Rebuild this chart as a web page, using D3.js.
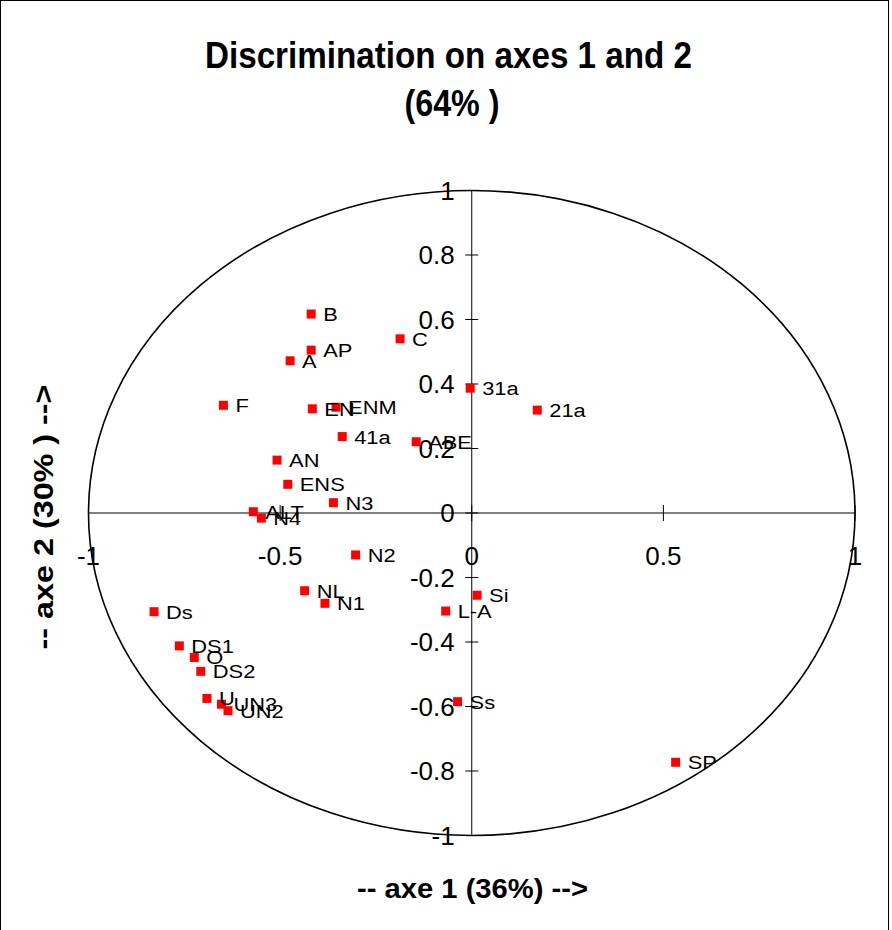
<!DOCTYPE html>
<html>
<head>
<meta charset="utf-8">
<script src="https://cdn.jsdelivr.net/npm/d3@7"></script>
<style>
  html, body { margin: 0; padding: 0; background: #fff; }
  svg { display: block; }
  text { font-family: "Liberation Sans", Arial, sans-serif; fill: #000; }
</style>
</head>
<body>
<svg id="chart" width="892" height="930"></svg>
<script>
const labels = ["B","AP","A","C","F","EN","ENM","41a","ABE","31a","21a","AN","ENS","N3","ALT","N4",
                "N2","NL","N1","Ds","DS1","O","DS2","U","UN3","UN2","Si","L-A","Ss","SP"];
const axis1 = [-0.419,-0.419,-0.474,-0.187,-0.648,-0.416,-0.354,-0.338,-0.145,-0.004,0.171,-0.508,-0.480,-0.361,-0.570,-0.549,
               -0.303,-0.436,-0.383,-0.829,-0.763,-0.724,-0.707,-0.691,-0.653,-0.636,0.014,-0.068,-0.037,0.532];
const axis2 = [0.617,0.505,0.472,0.540,0.334,0.323,0.328,0.237,0.221,0.387,0.319,0.164,0.089,0.032,0.004,-0.016,
               -0.130,-0.241,-0.280,-0.306,-0.412,-0.448,-0.491,-0.575,-0.593,-0.613,-0.255,-0.304,-0.585,-0.773];
const xTicks = [-1,-0.5,0,0.5,1];
const yTicks = [-1,-0.8,-0.6,-0.4,-0.2,0,0.2,0.4,0.6,0.8,1];
const xTickLabels = ["-1","-0.5","0","0.5","1"];
const yTickLabels = ["-1","-0.8","-0.6","-0.4","-0.2","0","0.2","0.4","0.6","0.8","1"];

const svg = d3.select("#chart");
const x = d3.scaleLinear().domain([-1,1]).range([88.5,855]);
const y = d3.scaleLinear().domain([-1,1]).range([835.5,190.5]);

// frame
svg.append("rect").attr("x",0.5).attr("y",0.5).attr("width",888).attr("height",940)
  .attr("fill","none").attr("stroke","#000").attr("stroke-width",1);

// title
svg.append("text").attr("x",448.5).attr("y",68).attr("text-anchor","middle")
  .attr("font-size",37).attr("font-weight","bold")
  .attr("textLength",487).attr("lengthAdjust","spacingAndGlyphs")
  .text("Discrimination on axes 1 and 2");
svg.append("text").attr("x",452).attr("y",116).attr("text-anchor","middle")
  .attr("font-size",37).attr("font-weight","bold")
  .attr("textLength",95).attr("lengthAdjust","spacingAndGlyphs")
  .text("(64% )");

// ellipse (unit circle)
svg.append("ellipse").attr("cx",x(0)).attr("cy",y(0))
  .attr("rx",x(1)-x(0)).attr("ry",y(-1)-y(0))
  .attr("fill","none").attr("stroke","#000").attr("stroke-width",1.6);

// axes lines
svg.append("line").attr("x1",x(-1)).attr("x2",x(1)).attr("y1",y(0)).attr("y2",y(0))
  .attr("stroke","#000").attr("stroke-width",1);
svg.append("line").attr("x1",x(0)).attr("x2",x(0)).attr("y1",y(1)).attr("y2",y(-1))
  .attr("stroke","#000").attr("stroke-width",1);

// x ticks
svg.selectAll(".xt").data(xTicks).enter().append("line")
  .attr("x1",d=>x(d)).attr("x2",d=>x(d)).attr("y1",y(0)-8).attr("y2",y(0)+8)
  .attr("stroke","#000").attr("stroke-width",1);
svg.selectAll(".xl").data(xTicks).enter().append("text")
  .attr("transform",d=>`translate(${x(d)},${y(0)+52}) scale(1.04,1)`)
  .attr("text-anchor","middle").attr("font-size",25)
  .text((d,i)=>xTickLabels[i]);

// y ticks
svg.selectAll(".yt").data(yTicks).enter().append("line")
  .attr("x1",x(0)-6.5).attr("x2",x(0)+6.5).attr("y1",d=>y(d)).attr("y2",d=>y(d))
  .attr("stroke","#000").attr("stroke-width",1);
svg.selectAll(".yl").data(yTicks).enter().append("text")
  .attr("transform",d=>`translate(${x(0)-17},${y(d)+9}) scale(1.04,1)`)
  .attr("text-anchor","end").attr("font-size",25)
  .text((d,i)=>yTickLabels[i]);

// points
const pts = labels.map((l,i)=>({l, a:axis1[i], b:axis2[i]}));
svg.selectAll(".pt").data(pts).enter().append("rect")
  .attr("x",d=>x(d.a)-4.5).attr("y",d=>y(d.b)-4.5).attr("width",9).attr("height",9)
  .attr("fill","#ff0000");
svg.selectAll(".pl").data(pts).enter().append("text")
  .attr("transform",d=>`translate(${x(d.a)+12},${y(d.b)+7}) scale(1.15,1)`)
  .attr("font-size",19)
  .text(d=>d.l);

// axis titles
svg.append("text").attr("x",472.5).attr("y",898).attr("text-anchor","middle")
  .attr("font-size",28).attr("font-weight","bold")
  .attr("textLength",231).attr("lengthAdjust","spacingAndGlyphs")
  .text("-- axe 1 (36%) -->");
svg.append("text").attr("transform","translate(53,517) rotate(-90)").attr("text-anchor","middle")
  .attr("font-size",28).attr("font-weight","bold")
  .attr("textLength",265).attr("lengthAdjust","spacingAndGlyphs")
  .text("-- axe 2 (30% ) -->");
</script>
</body>
</html>
